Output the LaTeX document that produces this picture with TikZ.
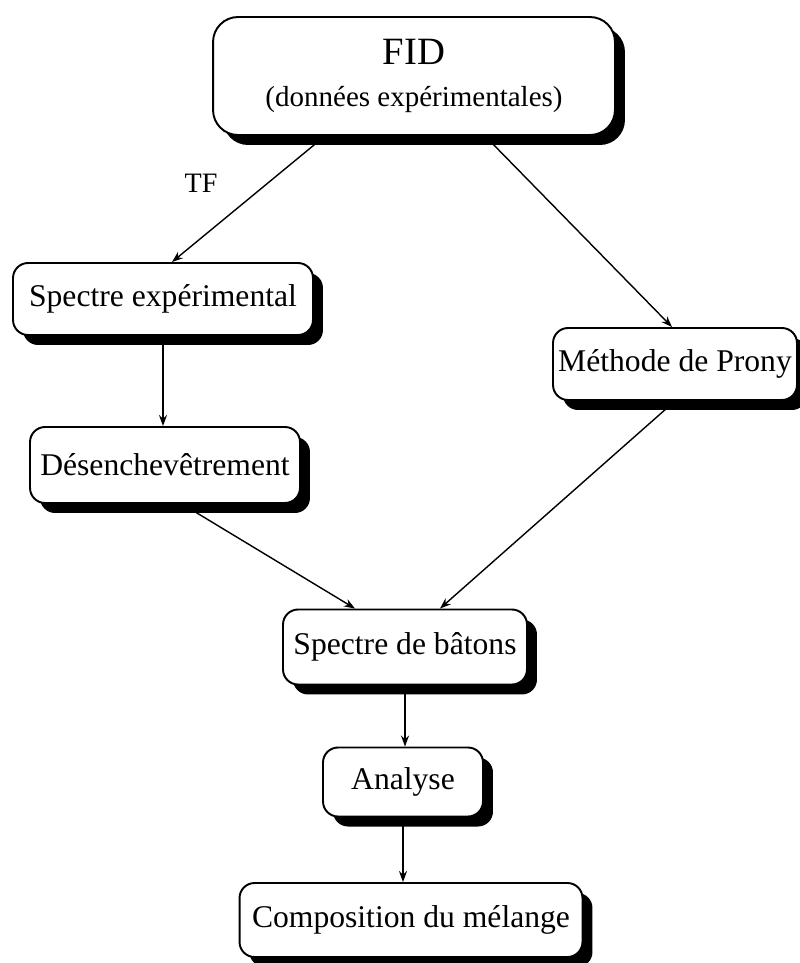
\documentclass[tikz,border=0pt]{standalone}
\usepackage{fontspec}
\setmainfont{Liberation Serif}
\usetikzlibrary{
	arrows.meta,
	calc,
	positioning,
	shadows
}
\tikzset{every path/.append style={line width=0.8pt}}
\tikzset{every path/.append style={>={Stealth[length=2.2mm,width=1.6mm]}}}
\tikzset{
	stepbox/.style={draw,line width=1.1pt,rounded corners=0.3cm,fill=white,inner sep=0pt,
		drop shadow={shadow xshift=0.2cm,shadow yshift=-0.2cm,fill=black,opacity=1},
		font=\fontsize{18}{21}\selectfont}
}

\begin{document}
\begin{tikzpicture}[x=0.02cm,y=-0.02cm]
	\useasboundingbox (0,0) rectangle (800,963);
	
	\node (fid) at (414,76) [stepbox,rounded corners=0.5cm,minimum width=8.04cm,minimum height=2.36cm,align=center]
		{{\fontsize{22}{24}\selectfont FID}\\[3pt]{\fontsize{16.5}{20}\selectfont (données expérimentales)}};
	
	\node (spec)    at (163,299) [stepbox,minimum width=6.0cm,minimum height=1.44cm] {Spectre expérimental};
	\node (des)     at (165,465) [stepbox,minimum width=5.4cm,minimum height=1.52cm] {Désenchevêtrement};
	\node (prony)   at (675,364) [stepbox,minimum width=4.88cm,minimum height=1.44cm] {Méthode de Prony};
	\node (batons)  at (405,647) [stepbox,minimum width=4.88cm,minimum height=1.5cm] {Spectre de bâtons};
	\node (analyse) at (403,782) [stepbox,minimum width=3.2cm,minimum height=1.38cm] {Analyse};
	\node (compo)   at (411,920) [stepbox,minimum width=6.86cm,minimum height=1.48cm] {Composition du mélange};
	
	\node (tf) at (201,183) [font=\fontsize{16}{19}\selectfont] {TF};
	
	\draw[->] ($(fid.south)+(-89,0)$) -- ($(spec.north)+(9,0)$);
	\draw[->] ($(fid.south)+(71,0)$)  -- ($(prony.north)+(-3,0)$);
	\draw[->] (spec.south) -- (spec.south |- des.north);
	\draw[->] ($(des.south)+(17,0)$)  -- ($(batons.north)+(-50,0)$);
	\draw[->] (prony.south) -- ($(batons.north)+(35,0)$);
	\draw[->] (batons.south)  -- (batons.south |- analyse.north);
	\draw[->] (analyse.south) -- (analyse.south |- compo.north);
\end{tikzpicture}
\end{document}
